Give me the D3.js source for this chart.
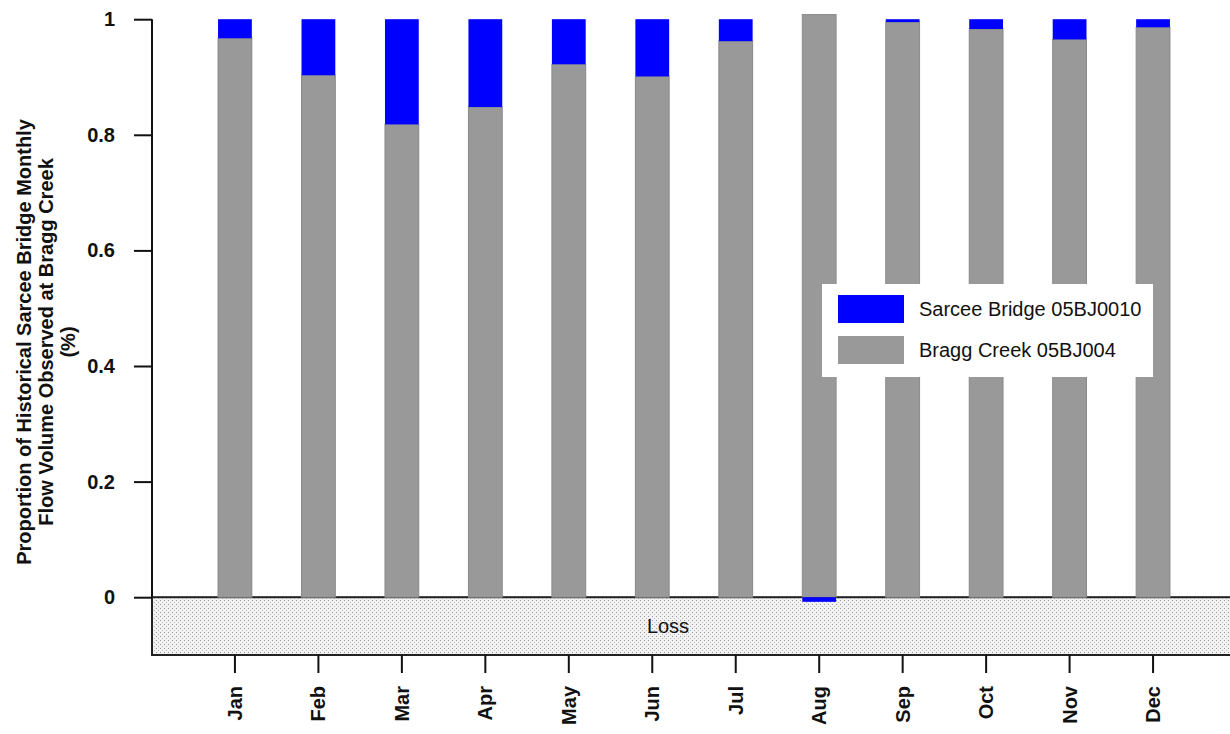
<!DOCTYPE html>
<html><head><meta charset="utf-8">
<script src="https://cdn.jsdelivr.net/npm/d3@7"></script>
<style>body{margin:0;background:#fff}svg{display:block}text{font-family:"Liberation Sans",Arial,sans-serif}</style>
</head><body><svg id="c" width="1230" height="734"></svg>
<script>
const months = ["Jan","Feb","Mar","Apr","May","Jun","Jul","Aug","Sep","Oct","Nov","Dec"];
const braggCreek = [0.967,0.903,0.818,0.848,0.922,0.901,0.962,1.008,0.995,0.983,0.965,0.986];
const sarceeBridge = [0.033,0.097,0.182,0.152,0.078,0.099,0.038,-0.008,0.005,0.017,0.035,0.014];
const yTicks = [0,0.2,0.4,0.6,0.8,1];
const seriesNames = ["Sarcee Bridge 05BJ0010","Bragg Creek 05BJ004"];
const colors = {sarcee:"#0000ff", bragg:"#999999"};

const svg = d3.select("#c");
const L = 152, R = 1237, T = 19, B = 655;
const FS = 20;
const y = d3.scaleLinear().domain([-0.1,1]).range([B, B - 578*1.1]);
const x = d3.scaleBand().domain(months).range([193, 1195]).paddingInner(0.595).paddingOuter(0.3);

// pattern for loss area
const defs = svg.append("defs");
const pat = defs.append("pattern").attr("id","dots").attr("width",4).attr("height",4).attr("patternUnits","userSpaceOnUse");
pat.append("rect").attr("width",4).attr("height",4).attr("fill","#f2f2f2");
pat.append("rect").attr("x",0).attr("y",0).attr("width",1).attr("height",1).attr("fill","#999");
pat.append("rect").attr("x",2).attr("y",2).attr("width",1).attr("height",1).attr("fill","#bbb");

svg.append("rect").attr("x",L).attr("y",y(0)).attr("width",R-L).attr("height",y(-0.1)-y(0))
  .attr("fill","url(#dots)").attr("stroke","#222").attr("stroke-width",2);
svg.append("text").attr("x",668).attr("y",(y(0)+y(-0.1))/2+7).attr("text-anchor","middle")
  .attr("font-size",FS).attr("fill","#111").text("Loss");

// bars
const g = svg.append("g");
months.forEach((m,i)=>{
  g.append("rect").attr("x",x(m)).attr("width",x.bandwidth())
    .attr("y",y(braggCreek[i])).attr("height",y(0)-y(braggCreek[i]))
    .attr("fill",colors.bragg).attr("stroke","#8a8a8a").attr("stroke-width",1);
  const s = sarceeBridge[i];
  const y0 = s>=0 ? braggCreek[i] : 0;
  const y1 = y0 + s;
  g.append("rect").attr("x",x(m)).attr("width",x.bandwidth())
    .attr("y",y(Math.max(y0,y1))).attr("height",Math.abs(y(y0)-y(y1)))
    .attr("fill",colors.sarcee);
});

// y axis
const ya = svg.append("g").attr("transform",`translate(${L},0)`)
  .call(d3.axisLeft(y).tickValues(yTicks).tickSize(18).tickPadding(19).tickFormat(d=>d===0?"0":d===1?"1":d3.format(".1f")(d)));
ya.select(".domain").remove();
ya.append("line").attr("x1",0).attr("x2",0).attr("y1",y(1)).attr("y2",y(0)).attr("stroke","#111").attr("stroke-width",2);
ya.selectAll(".tick line").attr("stroke","#111").attr("stroke-width",2);
ya.selectAll(".tick text").attr("font-size",FS).attr("font-weight","bold").attr("fill","#111")
  .attr("font-family","Liberation Sans, Arial, sans-serif");

// x axis
const xa = svg.append("g").attr("transform",`translate(0,${B})`)
  .call(d3.axisBottom(x).tickSize(18).tickPadding(0));
xa.select(".domain").remove();
xa.selectAll(".tick line").attr("stroke","#111").attr("stroke-width",2);
xa.selectAll(".tick text").attr("font-size",FS).attr("font-weight","bold").attr("fill","#111")
  .attr("font-family","Liberation Sans, Arial, sans-serif")
  .attr("text-anchor","end").attr("y",0).attr("dy","0.35em")
  .attr("transform","translate(0,31) rotate(-90)");

// y label
const lbl = ["Proportion of Historical Sarcee Bridge Monthly","Flow Volume Observed at Bragg Creek","(%)"];
const yl = svg.append("text").attr("transform","translate(0,342) rotate(-90)")
  .attr("text-anchor","middle").attr("font-size",FS).attr("font-weight","bold").attr("fill","#111");
lbl.forEach((t,i)=>yl.append("tspan").attr("x",0).attr("y",31+i*22).text(t));

// legend
const lg = svg.append("g").attr("transform","translate(822,284)");
lg.append("rect").attr("width",331).attr("height",93).attr("fill","#fff");
seriesNames.forEach((n,i)=>{
  lg.append("rect").attr("x",16).attr("y",11+i*41).attr("width",66).attr("height",28)
    .attr("fill",i===0?colors.sarcee:colors.bragg);
  lg.append("text").attr("x",97).attr("y",32+i*41).attr("font-size",FS).attr("fill","#111").text(n);
});
</script></body></html>
